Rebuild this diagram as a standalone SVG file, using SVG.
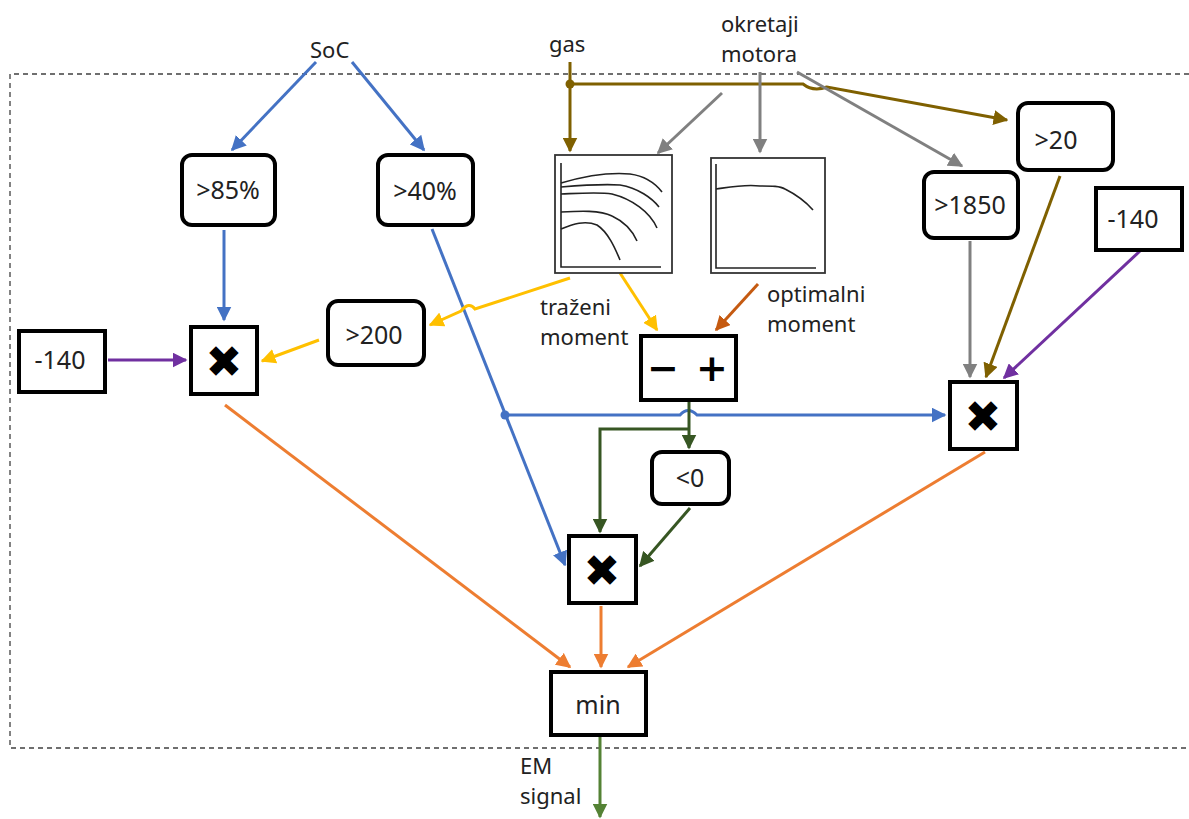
<svg xmlns="http://www.w3.org/2000/svg" width="1189" height="819" viewBox="0 0 1189 819">
<defs>
<style>
.t{font-family:"Noto Sans","Liberation Sans",sans-serif;fill:#222;}
.n{font-size:25px;text-anchor:middle;}
.l{font-size:22px;}
.rr{fill:#fff;stroke:#000;stroke-width:4;}
.sq{fill:#fff;stroke:#000;stroke-width:4;}
.ch{fill:#fff;stroke:#333;stroke-width:1.8;}
.cv{fill:none;stroke:#222;stroke-width:1.6;}
.c{fill:none;stroke-width:3;}
.x{font-family:"DejaVu Sans",sans-serif;font-size:44px;text-anchor:middle;fill:#000;}
.pm{font-family:"DejaVu Sans",sans-serif;font-size:38px;font-weight:bold;text-anchor:middle;fill:#000;}
</style>
<marker id="aB" viewBox="0 0 10 10" refX="9" refY="5" markerWidth="5" markerHeight="5" orient="auto"><path d="M0,0L10,5L0,10z" fill="#4472C4"/></marker>
<marker id="aY" viewBox="0 0 10 10" refX="9" refY="5" markerWidth="5" markerHeight="5" orient="auto"><path d="M0,0L10,5L0,10z" fill="#FFC000"/></marker>
<marker id="aR" viewBox="0 0 10 10" refX="9" refY="5" markerWidth="5" markerHeight="5" orient="auto"><path d="M0,0L10,5L0,10z" fill="#C55A11"/></marker>
<marker id="aG" viewBox="0 0 10 10" refX="9" refY="5" markerWidth="5" markerHeight="5" orient="auto"><path d="M0,0L10,5L0,10z" fill="#7F6000"/></marker>
<marker id="aS" viewBox="0 0 10 10" refX="9" refY="5" markerWidth="5" markerHeight="5" orient="auto"><path d="M0,0L10,5L0,10z" fill="#808080"/></marker>
<marker id="aP" viewBox="0 0 10 10" refX="9" refY="5" markerWidth="5" markerHeight="5" orient="auto"><path d="M0,0L10,5L0,10z" fill="#7030A0"/></marker>
<marker id="aD" viewBox="0 0 10 10" refX="9" refY="5" markerWidth="5" markerHeight="5" orient="auto"><path d="M0,0L10,5L0,10z" fill="#375623"/></marker>
<marker id="aL" viewBox="0 0 10 10" refX="9" refY="5" markerWidth="5" markerHeight="5" orient="auto"><path d="M0,0L10,5L0,10z" fill="#548235"/></marker>
<marker id="aO" viewBox="0 0 10 10" refX="9" refY="5" markerWidth="5" markerHeight="5" orient="auto"><path d="M0,0L10,5L0,10z" fill="#ED7D31"/></marker>
</defs>
<rect width="1189" height="819" fill="#fff"/>
<path d="M1189,74H10V748H1189" fill="none" stroke="#404040" stroke-width="1.3" stroke-dasharray="5 4"/>

<g id="labels">
<text class="t l" x="310" y="58">SoC</text>
<text class="t l" x="549" y="52">gas</text>
<text class="t l" x="721" y="32">okretaji</text>
<text class="t l" x="721" y="62">motora</text>
<text class="t l" x="540" y="315">traženi</text>
<text class="t l" x="540" y="345">moment</text>
<text class="t l" x="767" y="302">optimalni</text>
<text class="t l" x="767" y="332">moment</text>
<text class="t l" x="520" y="774">EM</text>
<text class="t l" x="520" y="804">signal</text>
</g>

<g id="connectors">
<path class="c" stroke="#4472C4" d="M316,62L232,150" marker-end="url(#aB)"/>
<path class="c" stroke="#4472C4" d="M352,62L424,150" marker-end="url(#aB)"/>
<path class="c" stroke="#4472C4" d="M224,230V320" marker-end="url(#aB)"/>
<path class="c" stroke="#4472C4" d="M432,229L565,565" marker-end="url(#aB)"/>
<path class="c" stroke="#4472C4" d="M505,415H680q8,-9 17,0H945" marker-end="url(#aB)"/>
<circle cx="505" cy="415" r="4.5" fill="#4472C4"/>
<path class="c" stroke="#FFC000" d="M570,278L475,309q-6,-8 -14,2L430,325" marker-end="url(#aY)"/>
<path class="c" stroke="#FFC000" d="M620,273L657,330" marker-end="url(#aY)"/>
<path class="c" stroke="#FFC000" d="M319,340L262,361" marker-end="url(#aY)"/>
<path class="c" stroke="#C55A11" d="M758,284L716,330" marker-end="url(#aR)"/>
<path class="c" stroke="#7F6000" d="M570,62V151" marker-end="url(#aG)"/>
<path class="c" stroke="#7F6000" d="M570,84H803q10,8 24,3L1007,120" marker-end="url(#aG)"/>
<circle cx="570" cy="84" r="4.5" fill="#7F6000"/>
<path class="c" stroke="#7F6000" d="M1060,176L986,377" marker-end="url(#aG)"/>
<path class="c" stroke="#808080" d="M722,93L658,153" marker-end="url(#aS)"/>
<path class="c" stroke="#808080" d="M760,72V152" marker-end="url(#aS)"/>
<path class="c" stroke="#808080" d="M797,72L962,166" marker-end="url(#aS)"/>
<path class="c" stroke="#808080" d="M970,241V377" marker-end="url(#aS)"/>
<path class="c" stroke="#7030A0" d="M108,360H186" marker-end="url(#aP)"/>
<path class="c" stroke="#7030A0" d="M1140,251L1004,378" marker-end="url(#aP)"/>
<path class="c" stroke="#375623" d="M689,402V448" marker-end="url(#aD)"/>
<path class="c" stroke="#375623" d="M689,429H600V532" marker-end="url(#aD)"/>
<path class="c" stroke="#375623" d="M690,508L640,566" marker-end="url(#aD)"/>
<path class="c" stroke="#548235" d="M600,737V817" marker-end="url(#aL)"/>
<path class="c" stroke="#ED7D31" d="M225,405L570,667" marker-end="url(#aO)"/>
<path class="c" stroke="#ED7D31" d="M601,606V667" marker-end="url(#aO)"/>
<path class="c" stroke="#ED7D31" d="M985,452L628,667" marker-end="url(#aO)"/>
</g>

<g id="n85"><rect class="rr" x="182" y="155" width="93" height="70" rx="10"/><text class="t n" x="228" y="199">&gt;85%</text></g>
<g id="n40"><rect class="rr" x="378" y="155" width="95" height="70" rx="10"/><text class="t n" x="425" y="200">&gt;40%</text></g>
<g id="m140a"><rect class="sq" x="19" y="331" width="86" height="61"/><text class="t n" x="60" y="369">-140</text></g>
<g id="mul1"><rect class="sq" x="191" y="327" width="66" height="67"/><text class="x" x="224" y="377">✖</text></g>
<g id="n200"><rect class="rr" x="328" y="301" width="96" height="64" rx="10"/><text class="t n" x="374" y="344">&gt;200</text></g>
<g id="chart1"><rect class="ch" x="555" y="155" width="117" height="118"/>
<path class="cv" d="M561,163V267H661"/>
<path class="cv" d="M561,183C585,176 607,172 630,174C645,176 655,183 662,192"/>
<path class="cv" d="M561,187C585,185 605,184 620,185C638,188 652,198 659,207"/>
<path class="cv" d="M561,194C585,193 600,192 612,194C632,199 650,212 657,228"/>
<path class="cv" d="M561,212C580,211 600,210 612,216C625,222 633,232 637,241"/>
<path class="cv" d="M561,229C573,224 585,220 597,225C608,232 615,248 620,260"/>
</g>
<g id="chart2"><rect class="ch" x="711" y="158" width="114" height="115"/>
<path class="cv" d="M716,164V268H816"/>
<path class="cv" d="M716,189C730,187 745,184 760,186C772,186 780,186 785,189C797,195 806,202 813,210"/>
</g>
<g id="pm"><rect class="sq" x="641" y="336" width="95" height="64"/><text class="pm" x="663" y="381">−</text><text class="pm" x="712" y="381">+</text></g>
<g id="n1850"><rect class="rr" x="924" y="172" width="94" height="66" rx="10"/><text class="t n" x="970" y="214">&gt;1850</text></g>
<g id="n20"><rect class="rr" x="1018" y="103" width="95" height="67" rx="10"/><text class="t n" x="1056" y="149">&gt;20</text></g>
<g id="m140b"><rect class="sq" x="1096" y="188" width="86" height="62"/><text class="t n" x="1133" y="228">-140</text></g>
<g id="mul3"><rect class="sq" x="950" y="382" width="67" height="67"/><text class="x" x="983" y="432">✖</text></g>
<g id="lt0"><rect class="rr" x="652" y="452" width="77" height="52" rx="10"/><text class="t n" x="690" y="487">&lt;0</text></g>
<g id="mul2"><rect class="sq" x="569" y="536" width="67" height="67"/><text class="x" x="602" y="586">✖</text></g>
<g id="min"><rect class="sq" x="551" y="672" width="95" height="63"/><text class="t n" x="598" y="714">min</text></g>
</svg>
